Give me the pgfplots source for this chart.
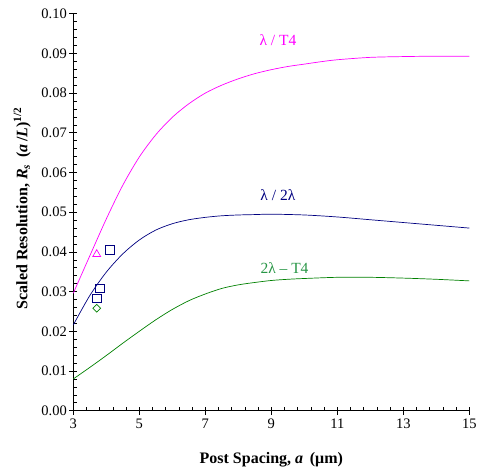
\documentclass[border=0pt]{standalone}
\usepackage{pgfplots}
\pgfplotsset{compat=1.18}
\usepackage{fontspec}
\setmainfont{Liberation Serif}
\definecolor{cmag}{RGB}{255,0,255}
\definecolor{cnavy}{RGB}{0,0,128}
\definecolor{cgreen}{RGB}{0,128,0}
\definecolor{cgreenlab}{RGB}{40,150,70}
\begin{document}
\begin{tikzpicture}
\useasboundingbox (-73.3bp,-64.3bp) rectangle (405.7bp,410.7bp);
\begin{axis}[
  scale only axis,
  width=396bp, height=397bp,
  xmin=3, xmax=15, ymin=0, ymax=0.10,
  axis lines=left,
  axis line style={-, line width=0.8pt},
  xtick={3,5,...,15},
  ytick={0,0.01,...,0.1001},
  minor x tick num=4,
  minor y tick num=4,
  tick align=inside,
  major tick length=4bp,
  minor tick length=4bp,
  tick style={black, line width=0.6pt},
  extra x ticks={3,5,...,15},
  extra x tick labels={},
  extra y ticks={0,0.01,...,0.1001},
  extra y tick labels={},
  extra tick style={tick align=center, major tick length=8bp},
  /pgf/number format/assume math mode=true,
  yticklabel style={/pgf/number format/fixed, /pgf/number format/fixed zerofill, /pgf/number format/precision=2, font=\fontsize{14.5bp}{16bp}\selectfont, xshift=-3bp},
  xticklabel style={font=\fontsize{14.5bp}{16bp}\selectfont, yshift=-5bp},
  scaled y ticks=false,
  xlabel={\textbf{Post Spacing, \textit{a}\,\ (μm)}},
  ylabel={\textbf{Scaled Resolution, \textit{R}\textsubscript{\textit{s}}\ \,(\textit{a\,}/\textit{L})\textsuperscript{1/2}}},
  xlabel style={at={(axis description cs:0.5,-0.124)}, anchor=center, font=\fontsize{16bp}{18bp}\selectfont},
  ylabel style={at={(axis description cs:-0.129,0.51)}, anchor=center, font=\fontsize{16bp}{18bp}\selectfont},
  clip=false,
]
\addplot[cmag, line width=0.7pt, smooth] coordinates {
(3,0.0296) (3.5,0.0390) (4,0.0483) (4.5,0.0568) (5,0.0639) (5.5,0.0695) (6,0.0739) (6.5,0.0773) (7,0.0800) (7.5,0.0820) (8,0.0836) (8.5,0.0849) (9,0.0859) (9.5,0.0867) (10,0.0873) (10.5,0.0879) (11,0.0884) (12,0.0890) (13,0.0892) (14,0.0893) (15,0.0893)};
\addplot[cnavy, line width=0.7pt, smooth] coordinates {
(3,0.0216) (3.5,0.0290) (4,0.0349) (4.5,0.0395) (5,0.0430) (5.5,0.0455) (6,0.0471) (6.5,0.0481) (7,0.0487) (7.5,0.0491) (8,0.0493) (8.5,0.0494) (9,0.0495) (10,0.0493) (11,0.0488) (12,0.0481) (13,0.0474) (14,0.0467) (15,0.0460)};
\addplot[cgreen, line width=0.7pt, smooth] coordinates {
(3,0.0080) (3.5,0.0109) (4,0.0139) (4.5,0.0170) (5,0.0200) (5.5,0.0229) (6,0.0255) (6.5,0.0277) (7,0.0294) (7.5,0.0308) (8,0.0317) (8.5,0.0323) (9,0.0328) (9.5,0.0331) (10,0.0333) (11,0.0336) (12,0.0336) (13,0.0334) (14,0.0331) (15,0.0327)};
\addplot[only marks, cmag, mark=triangle, mark size=4.6bp, mark options={line width=0.7pt}] coordinates {(3.71,0.0394)};
\addplot[only marks, cnavy, mark=square, mark size=4.2bp, mark options={line width=0.7pt}] coordinates {(4.11,0.0405) (3.81,0.0308) (3.71,0.0283)};
\addplot[only marks, cgreen, mark=square, mark size=2.7bp, mark options={rotate=45, line width=0.7pt}] coordinates {(3.71,0.0258)};
\node[cmag, font=\fontsize{15.5bp}{17bp}\selectfont] at (axis cs:9.2,0.0934) {λ / T4};
\node[cnavy, font=\fontsize{15.5bp}{17bp}\selectfont] at (axis cs:9.2,0.0543) {λ / 2λ};
\node[cgreenlab, font=\fontsize{15.5bp}{17bp}\selectfont] at (axis cs:9.4,0.0359) {2λ – T4};
\end{axis}
\end{tikzpicture}
\end{document}
